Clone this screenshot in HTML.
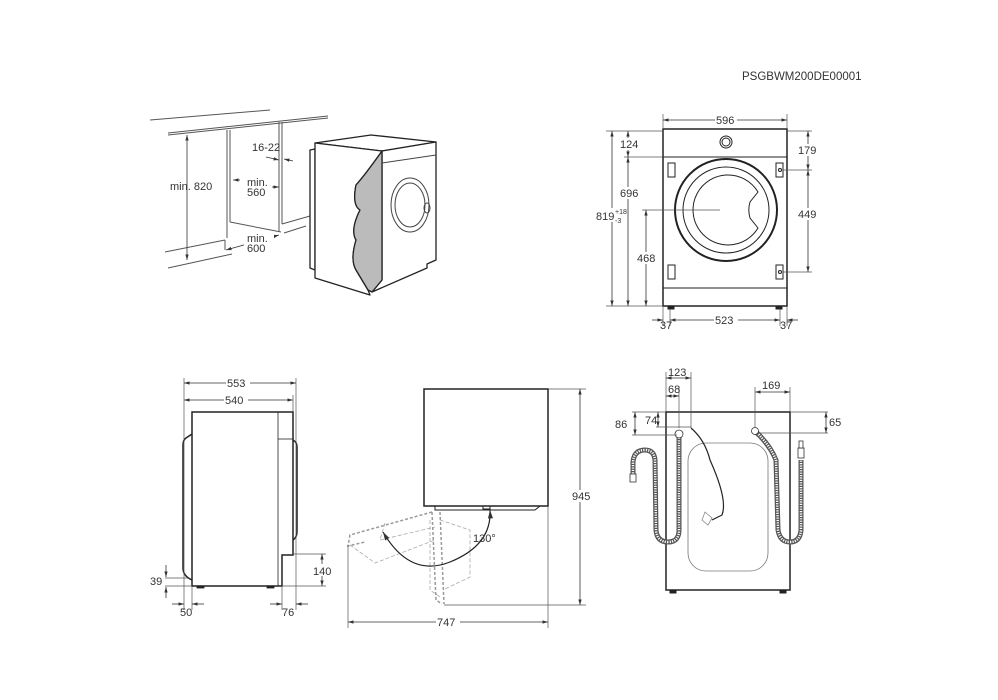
<!DOCTYPE html>
<html><head><meta charset="utf-8"><style>
html,body{margin:0;padding:0;background:#fff}
svg{display:block}
text{font-family:"Liberation Sans",sans-serif;font-size:11px;fill:#333}
</style></head><body>
<svg width="998" height="700" viewBox="0 0 998 700" xmlns="http://www.w3.org/2000/svg">
<defs>
<marker id="a" viewBox="0 0 10 10" refX="10" refY="5" markerWidth="7" markerHeight="7" orient="auto-start-reverse"><path d="M0,2 L10,5 L0,8 z" fill="#333"/></marker>
</defs>
<text x="742" y="80" style="font-size:11.5px">PSGBWM200DE00001</text>

<!-- Perspective view -->
<g stroke="#555" fill="none" stroke-width="1">
<line x1="150" y1="120" x2="270" y2="110"/>
<line x1="168" y1="133" x2="328" y2="116"/>
<line x1="168" y1="135" x2="328" y2="118"/>
<line x1="227" y1="130" x2="227" y2="238"/>
<line x1="230" y1="130" x2="230" y2="222"/>
<line x1="230" y1="222" x2="281" y2="232"/>
<line x1="279" y1="122" x2="279" y2="232"/>
<line x1="282" y1="122" x2="282" y2="224"/>
<line x1="282" y1="224" x2="310" y2="216"/>
<line x1="165" y1="252" x2="225" y2="240"/>
<line x1="168" y1="268" x2="232" y2="254"/>
<line x1="225" y1="240" x2="225" y2="250"/>
<line x1="284" y1="233" x2="306" y2="226"/>
</g>
<g stroke="#333" stroke-width="0.8" fill="none">
<line x1="187" y1="135" x2="187" y2="260" marker-start="url(#a)" marker-end="url(#a)"/>
<line x1="233" y1="180" x2="240" y2="180" marker-start="url(#a)"/>
<line x1="271" y1="187" x2="279" y2="187" marker-end="url(#a)"/>
<line x1="266" y1="157" x2="279" y2="160" marker-end="url(#a)"/>
<line x1="293" y1="161" x2="284" y2="159" marker-end="url(#a)"/>
<line x1="226" y1="250" x2="279" y2="235" marker-start="url(#a)" marker-end="url(#a)"/>
</g>
<rect x="246" y="176" width="26" height="22" fill="#fff"/>
<rect x="244" y="233" width="30" height="22" fill="#fff"/>
<text x="170" y="190">min. 820</text>
<text x="252" y="151">16-22</text>
<text x="247" y="186">min.</text><text x="247" y="196">560</text>
<text x="247" y="242">min.</text><text x="247" y="252">600</text>
<g stroke="#222" stroke-width="1.3" fill="#fff" stroke-linejoin="round">
<path d="M310,150 L315,149 L315,270 L310,268 Z"/>
<path d="M315,143 L371,135 L436,142 L382,151 Z"/>
<path d="M382,151 L436,142 L436,260 L427,264 L427,268 L372,292 L382,280 Z"/>
<path d="M315,143 L382,151 Q365,175 356,185 Q352,205 360,210 Q350,230 356,240 Q350,260 356,270 L368,290 L370,295 L315,278 Z"/>
<path d="M382,151 Q365,175 356,185 Q352,205 360,210 Q350,230 356,240 Q350,260 356,270 L368,290 L372,292 L382,280 Z" fill="#bbb"/>
</g>
<g stroke="#444" fill="none" stroke-width="1">
<line x1="382" y1="163" x2="436" y2="155"/>
<ellipse cx="410" cy="205" rx="19" ry="27"/>
<ellipse cx="410" cy="205" rx="15" ry="22"/>
<ellipse cx="427" cy="208" rx="3" ry="5"/>
</g>

<!-- Front view -->
<g stroke="#222" fill="none">
<rect x="663" y="129" width="124" height="177" stroke-width="1.5"/>
<line x1="663" y1="157" x2="787" y2="157"/>
<line x1="663" y1="288" x2="787" y2="288"/>
<circle cx="726" cy="210" r="51" stroke-width="2"/>
<circle cx="726" cy="210" r="43"/>
<path d="M726,175 A35,35 0 1 0 758,228 L750,218 A28,28 0 0 1 750,202 L758,192 A35,35 0 0 0 726,175" stroke-width="1"/>
<circle cx="726" cy="142" r="6"/><circle cx="726" cy="142" r="4"/>
<rect x="668" y="163" width="7" height="14"/><rect x="668" y="265" width="7" height="14"/>
<rect x="776" y="163" width="7" height="14"/><rect x="776" y="265" width="7" height="14"/>
<circle cx="780" cy="170" r="1.5"/><circle cx="780" cy="272" r="1.5"/>
<rect x="668" y="306" width="6" height="3" fill="#222"/><rect x="776" y="306" width="6" height="3" fill="#222"/>
</g>
<g stroke="#555" stroke-width="0.7" fill="none">
<line x1="663" y1="114" x2="663" y2="129"/><line x1="787" y1="114" x2="787" y2="129"/>
<line x1="606" y1="131" x2="663" y2="131"/><line x1="606" y1="306" x2="663" y2="306"/>
<line x1="624" y1="157" x2="663" y2="157"/><line x1="642" y1="210" x2="720" y2="210"/>
<line x1="787" y1="131" x2="812" y2="131"/><line x1="783" y1="170" x2="812" y2="170"/><line x1="783" y1="272" x2="812" y2="272"/>
<line x1="663" y1="306" x2="663" y2="326"/><line x1="787" y1="306" x2="787" y2="326"/>
<line x1="670" y1="309" x2="670" y2="326"/><line x1="780" y1="309" x2="780" y2="326"/>
</g>
<g stroke="#333" stroke-width="0.8">
<line x1="663" y1="120" x2="787" y2="120" marker-start="url(#a)" marker-end="url(#a)"/>
<line x1="612" y1="131" x2="612" y2="306" marker-start="url(#a)" marker-end="url(#a)"/>
<line x1="628" y1="131" x2="628" y2="157" marker-start="url(#a)" marker-end="url(#a)"/>
<line x1="628" y1="157" x2="628" y2="306" marker-start="url(#a)" marker-end="url(#a)"/>
<line x1="646" y1="210" x2="646" y2="306" marker-start="url(#a)" marker-end="url(#a)"/>
<line x1="808" y1="131" x2="808" y2="170" marker-start="url(#a)" marker-end="url(#a)"/>
<line x1="808" y1="170" x2="808" y2="272" marker-start="url(#a)" marker-end="url(#a)"/>
<line x1="670" y1="320" x2="780" y2="320" marker-start="url(#a)" marker-end="url(#a)"/>
<line x1="652" y1="320" x2="663" y2="320" marker-end="url(#a)"/>
<line x1="798" y1="320" x2="787" y2="320" marker-end="url(#a)"/>
</g>
<g fill="#fff"><rect x="715" y="114" width="22" height="12"/><rect x="620" y="138" width="20" height="12"/><rect x="620" y="187" width="20" height="12"/><rect x="636" y="252" width="22" height="12"/><rect x="797" y="144" width="22" height="12"/><rect x="797" y="208" width="22" height="12"/><rect x="714" y="314" width="24" height="12"/><rect x="600" y="208" width="24" height="14"/></g>
<text x="716" y="124">596</text>
<text x="620" y="148">124</text><text x="620" y="197">696</text><text x="637" y="262">468</text>
<text x="798" y="154">179</text><text x="798" y="218">449</text>
<text x="715" y="324">523</text>
<text x="660" y="329">37</text><text x="780" y="329">37</text>
<text x="596" y="220">819</text><text x="615" y="214" style="font-size:7px">+18</text><text x="615" y="223" style="font-size:7px">-3</text>

<!-- Side view -->
<g stroke="#222" fill="none" stroke-width="1.5">
<path d="M192,412 L293,412 L293,555 L282,555 L282,586 L192,586 Z"/>
<line x1="278" y1="412" x2="278" y2="586" stroke-width="0.8"/>
<line x1="278" y1="439" x2="293" y2="439" stroke-width="0.8"/>
<path d="M192,434 L186,438 Q183,440 183,445 L183,568 Q183,576 192,580"/>
<path d="M293,440 Q297,442 297,447 L297,532 Q297,537 293,540"/>
<rect x="197" y="586" width="7" height="2" fill="#222" stroke-width="0.8"/><rect x="267" y="586" width="7" height="2" fill="#222" stroke-width="0.8"/>
</g>
<g stroke="#555" stroke-width="0.7" fill="none">
<line x1="184" y1="378" x2="184" y2="610"/><line x1="296" y1="378" x2="296" y2="610"/><line x1="293" y1="395" x2="293" y2="412"/>
<line x1="192" y1="586" x2="192" y2="610"/><line x1="282" y1="586" x2="282" y2="610"/>
<line x1="293" y1="554" x2="326" y2="554"/><line x1="282" y1="586" x2="326" y2="586"/>
<line x1="165" y1="578" x2="188" y2="578"/><line x1="165" y1="586" x2="192" y2="586"/>
</g>
<g stroke="#333" stroke-width="0.8">
<line x1="184" y1="383" x2="296" y2="383" marker-start="url(#a)" marker-end="url(#a)"/>
<line x1="184" y1="400" x2="293" y2="400" marker-start="url(#a)" marker-end="url(#a)"/>
<line x1="322" y1="554" x2="322" y2="586" marker-start="url(#a)" marker-end="url(#a)"/>
<line x1="166" y1="565" x2="166" y2="577" marker-end="url(#a)"/>
<line x1="166" y1="598" x2="166" y2="587" marker-end="url(#a)"/>
<line x1="172" y1="604" x2="184" y2="604" marker-end="url(#a)"/>
<line x1="204" y1="604" x2="192" y2="604" marker-end="url(#a)"/>
<line x1="270" y1="604" x2="282" y2="604" marker-end="url(#a)"/>
<line x1="308" y1="604" x2="296" y2="604" marker-end="url(#a)"/>
</g>
<g fill="#fff"><rect x="226" y="377" width="24" height="12"/><rect x="224" y="394" width="24" height="12"/><rect x="312" y="564" width="22" height="12"/></g>
<text x="227" y="387">553</text><text x="225" y="404">540</text><text x="313" y="575">140</text>
<text x="150" y="585">39</text><text x="180" y="616">50</text><text x="282" y="616">76</text>

<!-- Top view middle -->
<g stroke="#222" fill="none">
<rect x="424" y="389" width="124" height="117" stroke-width="1.5"/>
<path d="M435,506 L435,510 L535,510 L540,506" stroke-width="1"/>
<rect x="483" y="506" width="7" height="3"/>
</g>
<g stroke="#999" stroke-width="1.5" fill="none" stroke-dasharray="3,2">
<path d="M432,512 L350,535 L348,546 L365,542"/>
<path d="M432,512 L436,600 L442,604"/>
<path d="M440,512 L444,604"/>
</g>
<g stroke="#aaa" stroke-width="0.8" fill="none" stroke-dasharray="4,2">
<path d="M350,545 L375,563 L435,540"/>
<path d="M385,523 L380,540 L435,527"/>
<path d="M440,520 L470,530 L470,577 L443,590"/>
<path d="M430,520 L430,590 L440,597"/>
</g>
<path d="M383,532 Q410,578 450,562 Q492,545 490,510" stroke="#222" stroke-width="1.2" fill="none" marker-start="url(#a)" marker-end="url(#a)"/>
<g stroke="#555" stroke-width="0.7" fill="none">
<line x1="548" y1="389" x2="586" y2="389"/><line x1="444" y1="605" x2="586" y2="605"/>
<line x1="548" y1="506" x2="548" y2="628"/><line x1="348" y1="545" x2="348" y2="628"/>
</g>
<g stroke="#333" stroke-width="0.8">
<line x1="580" y1="389" x2="580" y2="605" marker-start="url(#a)" marker-end="url(#a)"/>
<line x1="348" y1="622" x2="548" y2="622" marker-start="url(#a)" marker-end="url(#a)"/>
</g>
<g fill="#fff"><rect x="570" y="490" width="24" height="12"/><rect x="436" y="616" width="24" height="12"/></g>
<text x="572" y="500">945</text><text x="437" y="626">747</text><text x="473" y="542">130°</text>

<!-- Back view -->
<g stroke="#222" fill="none">
<rect x="666" y="412" width="124" height="178" stroke-width="1.5"/>
<rect x="688" y="443" width="80" height="128" rx="18" stroke="#777" stroke-width="0.8"/>
<rect x="670" y="590" width="6" height="3" fill="#222"/><rect x="780" y="590" width="6" height="3" fill="#222"/>
<path d="M691,428 Q705,440 710,460 Q728,500 722,515 L712,520" stroke-width="1.2"/>
<path d="M705,512 L712,518 L708,525 L702,520 Z" stroke="#888" stroke-width="0.8"/>
</g>
<g stroke="#555" stroke-width="5" fill="none">
<path d="M679,433 L679,530 Q679,542 668,542 Q657,542 656,530 L655,460 Q654,450 645,450 Q634,450 633,462 L633,475"/>
<path d="M755,431 Q770,445 776,460 L778,530 Q780,542 790,542 Q800,542 801,530 L801,460"/>
</g>
<g stroke="#fff" stroke-width="2.5" fill="none" stroke-dasharray="1.2,1.2">
<path d="M679,433 L679,530 Q679,542 668,542 Q657,542 656,530 L655,460 Q654,450 645,450 Q634,450 633,462 L633,475"/>
<path d="M755,431 Q770,445 776,460 L778,530 Q780,542 790,542 Q800,542 801,530 L801,460"/>
</g>
<g stroke="#333" fill="#fff" stroke-width="0.8">
<circle cx="679" cy="434" r="4"/><circle cx="755" cy="431" r="3.5"/>
<rect x="630" y="474" width="6" height="8"/><rect x="798" y="448" width="6" height="10"/><rect x="799" y="441" width="4" height="7"/>
</g>
<g stroke="#555" stroke-width="0.7" fill="none">
<line x1="666" y1="372" x2="666" y2="412"/><line x1="691" y1="372" x2="691" y2="428"/><line x1="679" y1="387" x2="679" y2="428"/>
<line x1="755" y1="387" x2="755" y2="428"/><line x1="790" y1="387" x2="790" y2="412"/>
<line x1="632" y1="412" x2="666" y2="412"/><line x1="632" y1="435" x2="677" y2="435"/><line x1="656" y1="427" x2="691" y2="427"/>
<line x1="790" y1="412" x2="828" y2="412"/><line x1="759" y1="433" x2="828" y2="433"/>
</g>
<g stroke="#333" stroke-width="0.8">
<line x1="666" y1="378" x2="691" y2="378" marker-start="url(#a)" marker-end="url(#a)"/>
<line x1="666" y1="396" x2="679" y2="396" marker-start="url(#a)" marker-end="url(#a)"/>
<line x1="755" y1="392" x2="790" y2="392" marker-start="url(#a)" marker-end="url(#a)"/>
<line x1="635" y1="412" x2="635" y2="435" marker-start="url(#a)" marker-end="url(#a)"/>
<line x1="658" y1="412" x2="658" y2="427" marker-start="url(#a)" marker-end="url(#a)"/>
<line x1="826" y1="412" x2="826" y2="433" marker-start="url(#a)" marker-end="url(#a)"/>
</g>
<text x="668" y="376">123</text><text x="668" y="393">68</text><text x="762" y="389">169</text>
<text x="615" y="428">86</text><text x="645" y="424">74</text><text x="829" y="426">65</text>
</svg>
</body></html>
